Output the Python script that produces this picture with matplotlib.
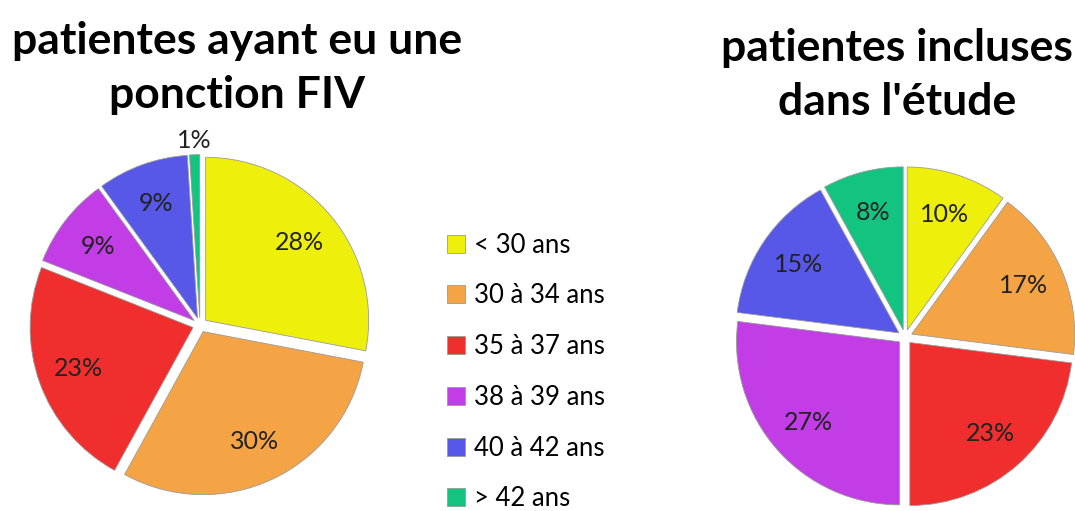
import matplotlib.pyplot as plt
import numpy as np

# --- Data ---
categories = ["< 30 ans", "30 à 34 ans", "35 à 37 ans", "38 à 39 ans", "40 à 42 ans", "> 42 ans"]
fiv_values = [28, 30, 23, 9, 9, 1]
etude_values = [10, 17, 23, 27, 15, 8]
colors = ["#EEF00C", "#F5A445", "#F02E2E", "#C23DE6", "#5757E8", "#13C481"]

title_left = "patientes ayant eu une\nponction FIV"
title_right = "patientes incluses\ndans l'étude"

plt.rcParams['font.family'] = ['Lato', 'DejaVu Sans']

W, H = 1075, 511
fig = plt.figure(figsize=(W / 100, H / 100), dpi=100)

R_PX = 163  # pie radius in pixels
LIM = 1.15


def pie_axes(cx, cy):
    size = 2 * LIM * R_PX
    return fig.add_axes([(cx - size / 2) / W, 1 - (cy + size / 2) / H, size / W, size / H])


def draw_pie(ax, values, outside_small=False):
    wedges, _ = ax.pie(values, colors=colors, startangle=90, counterclock=False,
                       explode=[0.045] * len(values),
                       wedgeprops=dict(edgecolor="#9a9a9a", linewidth=0.6))
    ax.set_xlim(-LIM, LIM)
    ax.set_ylim(-LIM, LIM)
    ax.set_aspect("equal")
    ax.axis("off")
    for w, v in zip(wedges, values):
        ang = np.deg2rad((w.theta1 + w.theta2) / 2)
        r = 0.79
        if outside_small and v < 3:
            r = 1.13
        ax.text(r * np.cos(ang), r * np.sin(ang), f"{v}%", ha="center", va="center",
                fontsize=18, color="#222222", clip_on=False)
    return wedges


ax1 = pie_axes(200, 325)
wedges = draw_pie(ax1, fiv_values, outside_small=True)

ax2 = pie_axes(905, 337)
draw_pie(ax2, etude_values)

fig.text(237 / W, 1 - 68 / H, title_left, ha="center", va="center", fontsize=32,
         fontweight="bold", linespacing=1.4)
fig.text(897 / W, 1 - 75 / H, title_right, ha="center", va="center", fontsize=32,
         fontweight="bold", linespacing=1.4)

fig.legend(wedges, categories, loc="center left", bbox_to_anchor=(424 / W, 1 - 372 / H),
           frameon=False, fontsize=18.5, handlelength=0.7, handleheight=0.7,
           handletextpad=0.35, labelspacing=1.0)

fig.savefig("out.png", dpi=100)
